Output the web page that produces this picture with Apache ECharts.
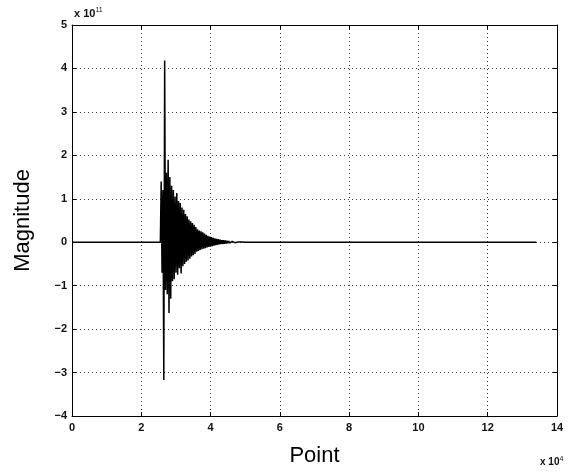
<!DOCTYPE html>
<html>
<head>
<meta charset="utf-8">
<script src="https://cdn.jsdelivr.net/npm/echarts@6/dist/echarts.min.js"></script>
<style>html,body{margin:0;padding:0;background:#fff}#c{width:572px;height:473px}</style>
</head>
<body>
<div id="c"></div>
<script>
// Point index (x) and magnitude in units of 1e11 (y)
const pointIdx = [0, 25500, 25750, 26000, 26250, 26500, 26750, 27000, 27250, 27500, 27750, 28000, 28250, 28500, 28750, 29000, 29250, 29500, 29750, 30000, 30250, 30500, 30750, 31000, 31250, 31500, 31750, 32000, 32250, 32500, 32750, 33000, 33250, 33500, 33750, 34000, 34250, 34500, 34750, 35000, 35250, 35500, 35750, 36000, 36250, 36500, 36750, 37000, 37250, 37500, 37750, 38000, 38250, 38500, 38750, 39000, 39250, 39500, 39750, 40000, 40250, 40500, 40750, 41000, 41250, 41500, 41750, 42000, 42250, 42500, 42750, 43000, 43250, 43500, 43750, 44000, 44250, 44500, 44750, 45000, 45250, 45500, 45750, 46000, 46250, 46500, 46750, 47000, 47250, 47500, 48000, 48500, 49000, 50000, 134000];
const magnitude = [0, 0, 1.4, -0.7, 1.2, -3.17, 4.18, -1.1, 1.6, -1.2, 1.9, -1.63, 1.5, -1.3, 1.3, -0.9, 1.2, -0.85, 1.05, -0.7, 1.13, -0.75, 0.95, -0.6, 0.9, -0.72, 0.8, -0.55, 0.75, -0.5, 0.65, -0.45, 0.6, -0.42, 0.52, -0.38, 0.48, -0.33, 0.44, -0.3, 0.4, -0.27, 0.35, -0.22, 0.3, -0.2, 0.27, -0.18, 0.25, -0.16, 0.23, -0.15, 0.2, -0.14, 0.17, -0.12, 0.15, -0.11, 0.13, -0.1, 0.12, -0.09, 0.1, -0.08, 0.09, -0.07, 0.08, -0.06, 0.07, -0.05, 0.06, -0.045, 0.05, -0.04, 0.045, -0.035, 0.04, -0.03, 0.035, -0.025, 0.03, -0.02, 0.025, -0.015, 0.02, -0.012, 0.015, -0.01, 0.01, -0.008, 0.006, -0.004, 0.003, 0, 0];
const xTicks = [0, 2, 4, 6, 8, 10, 12, 14];     // x 10^4
const yTicks = [-4, -3, -2, -1, 0, 1, 2, 3, 4, 5]; // x 10^11
const xScaleLabel = 'x 10';
const xScaleExp = '4';
const yScaleLabel = 'x 10';
const yScaleExp = '11';

const chart = echarts.init(document.getElementById('c'), null, {renderer: 'canvas'});
const font = 'Liberation Sans, Arial, Helvetica, sans-serif';
const data = pointIdx.map((x, i) => [x / 1e4, magnitude[i]]);

const gridLine = {show: true, lineStyle: {color: '#333', type: [1, 3], width: 1}};
const axisCommon = {
  axisLine: {show: true, onZero: false, lineStyle: {color: '#000', width: 1}},
  axisTick: {show: true, inside: true, length: 4, lineStyle: {color: '#000'}},
};

chart.setOption({
  animation: false,
  backgroundColor: '#fff',
  grid: {left: 72, right: 15, top: 25, bottom: 57},
  xAxis: [
    Object.assign({
      type: 'value', min: 0, max: 14, interval: 2, position: 'bottom',
      name: 'Point', nameLocation: 'middle', nameGap: 29,
      nameTextStyle: {fontFamily: font, fontSize: 22, color: '#000'},
      axisLabel: {fontFamily: font, fontSize: 11, fontWeight: 'bold', color: '#111', margin: 6,
        formatter: v => xTicks.includes(v) ? String(v) : ''},
      splitLine: gridLine
    }, axisCommon),
    Object.assign({
      type: 'value', min: 0, max: 14, interval: 2, position: 'top',
      axisLabel: {show: false}, splitLine: {show: false}
    }, axisCommon)
  ],
  yAxis: [
    Object.assign({
      type: 'value', min: -4, max: 5, interval: 1, position: 'left',
      name: 'Magnitude', nameLocation: 'middle', nameGap: 38, nameRotate: 90,
      nameTextStyle: {fontFamily: font, fontSize: 22, color: '#000'},
      axisLabel: {fontFamily: font, fontSize: 11, fontWeight: 'bold', color: '#111', margin: 5,
        formatter: v => yTicks.includes(v) ? (v < 0 ? '\u2212' + Math.abs(v) : String(v)) : ''},
      splitLine: gridLine
    }, axisCommon),
    Object.assign({
      type: 'value', min: -4, max: 5, interval: 1, position: 'right',
      axisLabel: {show: false}, splitLine: {show: false}
    }, axisCommon)
  ],
  graphic: [
    {type: 'text', left: 74, top: 7, style: {
      text: '{b|' + yScaleLabel + '}{s|' + yScaleExp + '}',
      rich: {b: {fontFamily: font, fontSize: 11, fontWeight: 'bold', fill: '#111'},
             s: {fontFamily: font, fontSize: 7, fill: '#111', padding: [0,0,6,0]}}
    }},
    {type: 'text', left: 540, top: 456, style: {
      text: '{b|' + xScaleLabel + '}{s|' + xScaleExp + '}',
      rich: {b: {fontFamily: font, fontSize: 10, fontWeight: 'bold', fill: '#111'},
             s: {fontFamily: font, fontSize: 7, fill: '#111', padding: [0,0,6,0]}}
    }}
  ],
  series: [{
    type: 'line', data: data, xAxisIndex: 0, yAxisIndex: 0,
    showSymbol: false, symbol: 'none', sampling: false,
    lineStyle: {color: '#000', width: 1.5},
    z: 5
  }]
});
</script>
</body>
</html>
